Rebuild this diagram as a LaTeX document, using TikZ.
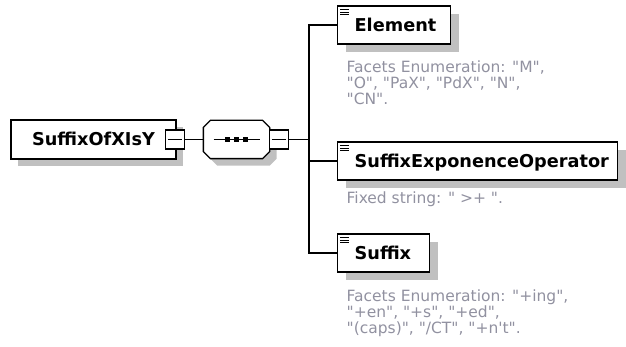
\documentclass[tikz,border=0pt]{standalone}
\usepackage{fontspec}
\newfontfamily\xsdfont{DejaVu Sans}
\usepackage{tikz}
\usetikzlibrary{shadows, calc}

\definecolor{shadowgray}{RGB}{192,192,192}
\definecolor{facetgray}{RGB}{145,145,160}
\newcommand{\xsdtitlefont}{\xsdfont\bfseries\fontsize{17.7}{20}\selectfont}
\newcommand{\xsdfacetfont}{\xsdfont\fontsize{15.5}{16}\selectfont}

\begin{document}
\begin{tikzpicture}[x=1pt, y=1pt, node distance=80pt, line width=1.3pt]
\useasboundingbox (0,0) rectangle (626,-347);
% Styles
\tikzstyle{rootbox} = [rectangle, draw=black, fill=white, minimum width=165pt, minimum height=39pt, inner sep=0pt, text height=12.9pt, text depth=0pt, font=\xsdtitlefont, drop shadow={shadow xshift=7pt, shadow yshift=-7pt, fill=shadowgray, opacity=1}]
\tikzstyle{minusbox} = [rectangle, draw=black, fill=white, minimum size=19pt, inner sep=0pt]
\tikzstyle{seqbox} = [rectangle, minimum width=65pt, minimum height=37pt, inner sep=0pt]
\tikzstyle{seqoutline} = [draw=black, fill=white, line join=miter, drop shadow={shadow xshift=7pt, shadow yshift=-7pt, fill=shadowgray, opacity=1}]
\tikzstyle{childbox} = [rectangle, draw=black, fill=white, anchor=west, minimum height=38pt, inner sep=0pt, text height=12.9pt, text depth=0pt, align=left, font=\xsdtitlefont, execute at begin node=\hspace*{17pt}, drop shadow={shadow xshift=8pt, shadow yshift=-8pt, fill=shadowgray, opacity=1}]
\tikzstyle{facets} = [anchor=north west, inner sep=0pt, align=left, text=facetgray, font=\xsdfacetfont]

% Nodes
\node (root) [rootbox] at (93.5,-139.5) {SuffixOfXIsY};
\node (root_minus) [minusbox, right of=root, xshift=1.5pt] {};
\node (sequence) [seqbox, right of=root_minus, xshift=-18.5pt] {};

% Sequence octagon
\draw [seqoutline] ([xshift=7pt]sequence.north west) -- ([xshift=-7pt]sequence.north east)
  -- ([yshift=-7pt]sequence.north east) -- ([yshift=7pt]sequence.south east)
  -- ([xshift=-7pt]sequence.south east) -- ([xshift=7pt]sequence.south west)
  -- ([yshift=7pt]sequence.south west) -- ([yshift=-7pt]sequence.north west) -- cycle;

\node (seq_minus) [minusbox, right of=sequence, xshift=-37.5pt] {};
\coordinate[right of=seq_minus, xshift=-50pt] (spine);

\node (element) [childbox, text width=113pt] at (337,-25) {Element};
\node (seo) [childbox, text width=280pt] at (337,-161) {SuffixExponenceOperator};
\node (suffix) [childbox, text width=92pt] at (337,-253) {Suffix};

\node (element_facets) [facets] at (346,-60) {Facets Enumeration: "M",\\"O", "PaX", "PdX", "N",\\"CN".};
\node (seo_fixed) [facets] at (346,-191) {Fixed string: " >+ ".};
\node (suffix_facets) [facets] at (346,-289) {Facets Enumeration: "+ing",\\"+en", "+s", "+ed",\\"(caps)", "/CT", "+n't".};

% Symbols inside the boxes
\foreach \m in {root_minus, seq_minus}
  \draw ([xshift=3pt]\m.west) -- ([xshift=-3pt]\m.east);
\draw ([xshift=-23pt]sequence.center) -- ([xshift=23pt]sequence.center);
\foreach \dx in {-9,0,9}
  \fill ([xshift=\dx pt]sequence.center) +(-2.5,-2.5) rectangle +(2.5,2.5);
\foreach \child in {element, seo, suffix}
  \foreach \dy in {4,6.7,9.4}
    \draw[line width=1pt] ($(\child.north west)+(3,-\dy)$) -- ++(9,0);

% Connectors
\draw (root_minus.east) -- (sequence.west);
\draw (seq_minus.east) -- (spine);
\draw (element.west) -| (spine) |- (suffix.west);
\draw (spine) |- (seo.west);
\end{tikzpicture}
\end{document}
